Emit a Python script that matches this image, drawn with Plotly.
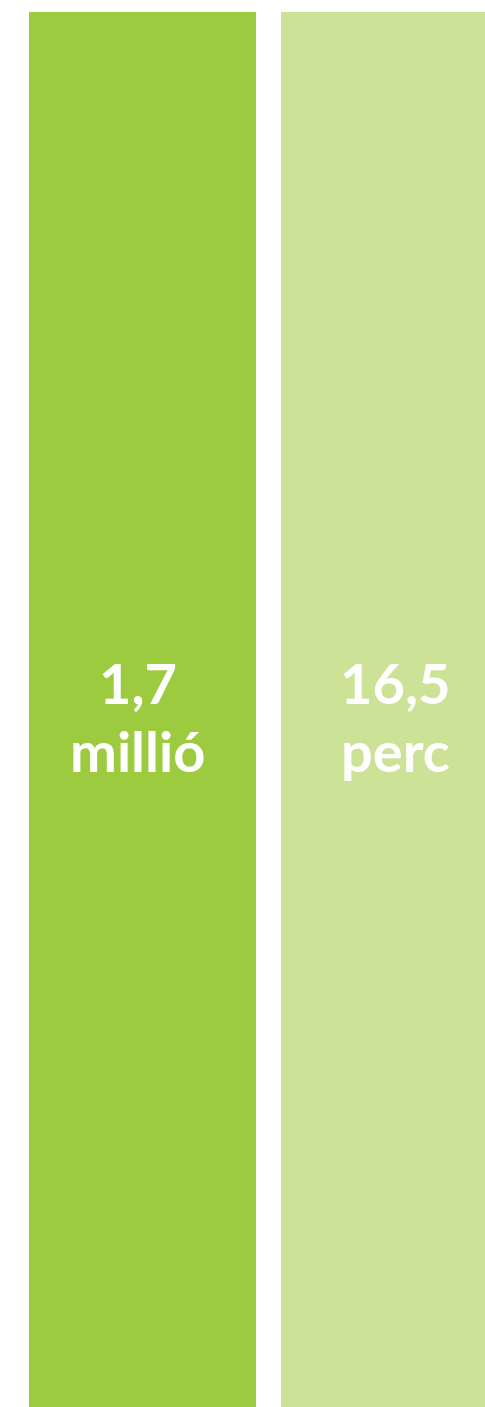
import plotly.graph_objects as go

categories = [0, 1]
values = [100, 100]
top_labels = ["1,7", "16,5"]
bottom_labels = ["millió", "perc"]
colors = ["#9dcb3f", "#cbe297"]

# layout constants
W, H = 485, 1407
PITCH = 252
C0 = 142.5              # centre of first bar in px
FONT = 56
XSHIFTS = [-5, 1]
YSHIFTS = (27, -41)

fig = go.Figure(go.Bar(
    x=categories,
    y=values,
    marker=dict(color=colors, line=dict(width=0)),
    width=227 / PITCH,
    hoverinfo="skip",
))

for i, (c, v) in enumerate(zip(categories, values)):
    for txt, ys in zip((top_labels[i], bottom_labels[i]), YSHIFTS):
        fig.add_annotation(
            x=c, y=v / 2, xref="x", yref="y",
            text=txt, showarrow=False,
            xanchor="center", yanchor="middle",
            xshift=XSHIFTS[i], yshift=ys,
            font=dict(family="Lato", size=FONT, color="white", weight="bold"),
        )

fig.update_layout(
    width=W,
    height=H,
    margin=dict(l=0, r=0, t=0, b=0),
    paper_bgcolor="white",
    plot_bgcolor="white",
    showlegend=False,
    xaxis=dict(range=[-C0 / PITCH, (W - C0) / PITCH], visible=False, fixedrange=True),
    yaxis=dict(range=[0, 100 * H / 1395], visible=False, fixedrange=True),
)

fig.write_html(
    "out.html",
    config={"displayModeBar": False},
    post_script="document.body.style.margin='0';document.body.style.overflow='hidden';",
)
